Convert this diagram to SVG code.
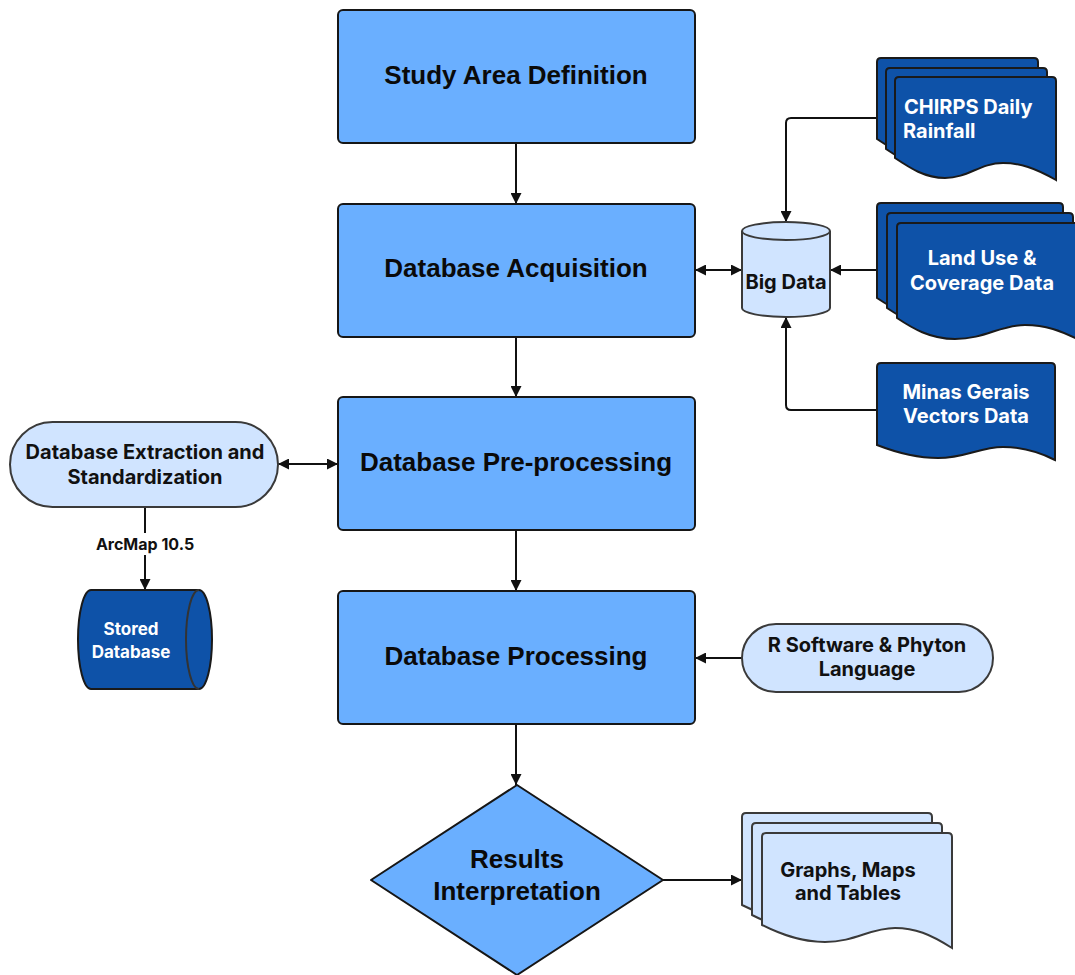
<svg xmlns="http://www.w3.org/2000/svg" xmlns:xlink="http://www.w3.org/1999/xlink" width="1075" height="975" viewBox="0 0 1075 975">
<style>
.main{fill:#6aafff;stroke:#161616;stroke-width:2}
.mt{font-family:"Liberation Sans",Arial,sans-serif;font-weight:bold;font-size:26px;fill:#0a0a0a;text-anchor:middle}
.dark{fill:#0e52a8;stroke:#1a1a1a;stroke-width:2}
.light{fill:#d0e4ff;stroke:#3a3a3a;stroke-width:2}
.st{font-family:Inter,"Noto Sans",sans-serif;font-weight:bold;font-size:20px;text-anchor:middle}
.sl{text-anchor:start}
.w{fill:#ffffff}
.k{fill:#111111}
.c{fill:none;stroke:#111111;stroke-width:2}
</style>
<defs>
<marker id="ah" markerUnits="userSpaceOnUse" markerWidth="11" markerHeight="11" refX="11" refY="5.5" orient="auto-start-reverse" viewBox="0 0 11 11">
<path d="M0,0 L11,5.5 L0,11 Z" fill="#111111"/>
</marker>
<path id="docChirps" d="M895,158 L895,81 Q895,77 899,77 L1052,77 Q1056,77 1056,81 L1056,180 C1035,168 1020,163 1003,163 C980,163 968,178 945,178 C925,178 910,168 895,158 Z"/>
<path id="docLand" d="M897,318 V227 Q897,223 901,223 H1079 Q1083,223 1083,227 V342 C1060,330 1045,325 1025,325 C1000,325 985,339 955,339 C930,339 912,328 897,318 Z"/>
<path id="docGraphs" d="M762,925 V837 Q762,833 766,833 H948 Q952,833 952,837 V948 C930,934 915,928 895,928 C870,928 855,942 825,942 C800,942 780,934 762,925 Z"/>
</defs>

<g id="connectors">
<path class="c" d="M516,143 V204" marker-end="url(#ah)"/>
<path class="c" d="M516,337 V397" marker-end="url(#ah)"/>
<path class="c" d="M516,530 V591" marker-end="url(#ah)"/>
<path class="c" d="M516,724 V785" marker-end="url(#ah)"/>
<path class="c" d="M695,270 H742" marker-start="url(#ah)" marker-end="url(#ah)"/>
<path class="c" d="M877,270 H830" marker-end="url(#ah)"/>
<path class="c" d="M877,118 H791 Q786,118 786,123 V222" marker-end="url(#ah)"/>
<path class="c" d="M877,410 H791 Q786,410 786,405 V317" marker-end="url(#ah)"/>
<path class="c" d="M278,464 H338" marker-start="url(#ah)" marker-end="url(#ah)"/>
<path class="c" d="M145,507 V590" marker-end="url(#ah)"/>
<rect x="92" y="533" width="106" height="22" fill="#ffffff"/>
<text x="145" y="550" font-family="Inter,'Noto Sans',sans-serif" font-weight="bold" font-size="16" text-anchor="middle" fill="#111111">ArcMap 10.5</text>
<path class="c" d="M742,658 H695" marker-end="url(#ah)"/>
<path class="c" d="M663,880 H742" marker-end="url(#ah)"/>
</g>

<g id="study-area">
<rect class="main" x="338" y="10" width="357" height="133" rx="5"/>
<text class="mt" x="516" y="84">Study Area Definition</text>
</g>
<g id="acquisition">
<rect class="main" x="338" y="204" width="357" height="133" rx="5"/>
<text class="mt" x="516" y="277">Database Acquisition</text>
</g>
<g id="preprocessing">
<rect class="main" x="338" y="397" width="357" height="133" rx="5"/>
<text class="mt" x="516" y="471">Database Pre-processing</text>
</g>
<g id="processing">
<rect class="main" x="338" y="591" width="357" height="133" rx="5"/>
<text class="mt" x="516" y="665">Database Processing</text>
</g>
<g id="results">
<path class="main" d="M517,785 L663,880 L517,975 L371,880 Z" stroke-linejoin="round"/>
<text class="mt" x="517" y="868">Results</text>
<text class="mt" x="517" y="900">Interpretation</text>
</g>

<g id="big-data">
<path class="light" d="M742,231 A44,9 0 0,1 830,231 V308 A44,9 0 0,1 742,308 Z"/>
<path class="light" fill="none" d="M742,231 A44,9 0 0,0 830,231"/>
<text class="st k" x="786" y="289">Big Data</text>
</g>

<g id="chirps">
<use href="#docChirps" class="dark" transform="translate(-18,-19)"/>
<use href="#docChirps" class="dark" transform="translate(-9,-9)"/>
<use href="#docChirps" class="dark"/>
<text class="st sl w" x="904" y="114">CHIRPS Daily</text>
<text class="st sl w" x="903" y="138">Rainfall</text>
</g>

<g id="land-use">
<use href="#docLand" class="dark" transform="translate(-20,-20)"/>
<use href="#docLand" class="dark" transform="translate(-10,-10)"/>
<use href="#docLand" class="dark"/>
<text class="st w" x="982" y="265">Land Use &amp;</text>
<text class="st w" x="982" y="290">Coverage Data</text>
</g>

<g id="minas">
<path class="dark" d="M877,445 V367 Q877,363 881,363 H1051 Q1055,363 1055,367 V460 C1035,450 1020,447 1003,447 C980,447 965,458 938,458 C915,458 895,452 877,445 Z"/>
<text class="st w" x="966" y="399">Minas Gerais</text>
<text class="st w" x="966" y="423">Vectors Data</text>
</g>

<g id="extraction">
<rect class="light" x="10" y="422" width="268" height="85" rx="42.5"/>
<text class="st k" x="145" y="459">Database Extraction and</text>
<text class="st k" x="145" y="484">Standardization</text>
</g>

<g id="stored">
<path class="dark" stroke="#333333" d="M91,590 H199 A13,49.5 0 0,1 199,689 H91 A13,49.5 0 0,1 91,590 Z"/>
<path fill="none" stroke="#333333" stroke-width="2" d="M199,590 A13,49.5 0 0,0 199,689"/>
<text class="st w" x="131" y="635" style="font-size:17px">Stored</text>
<text class="st w" x="131" y="658" style="font-size:17px">Database</text>
</g>

<g id="r-software">
<rect class="light" x="742" y="624" width="251" height="68" rx="34"/>
<text class="st k" x="867" y="652">R Software &amp; Phyton</text>
<text class="st k" x="867" y="676">Language</text>
</g>

<g id="graphs">
<use href="#docGraphs" class="light" transform="translate(-20,-20)"/>
<use href="#docGraphs" class="light" transform="translate(-10,-10)"/>
<use href="#docGraphs" class="light"/>
<text class="st k" x="848" y="877">Graphs, Maps</text>
<text class="st k" x="848" y="900">and Tables</text>
</g>
</svg>
